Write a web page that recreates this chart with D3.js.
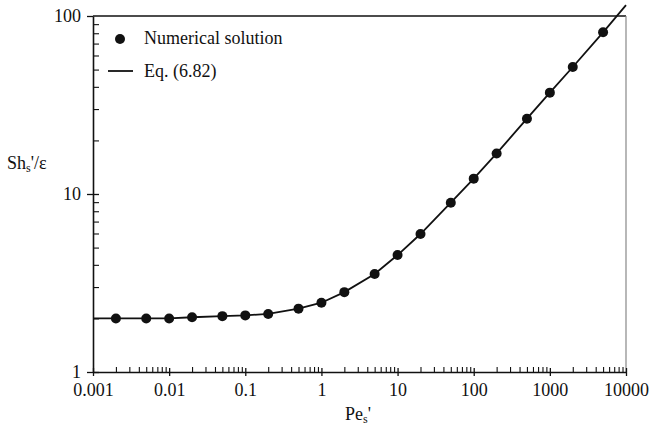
<!DOCTYPE html>
<html>
<head>
<meta charset="utf-8">
<script src="https://cdn.jsdelivr.net/npm/d3@7"></script>
<style>
  html, body { margin: 0; padding: 0; background: #fff; }
  svg { display: block; }
  text { font-family: "Liberation Serif", "Times New Roman", serif; fill: #111; }
</style>
</head>
<body>
<svg id="chart" width="649" height="434"></svg>
<script>
// Numerical solution points (Pe_s', Sh_s'/ε)
const pePoints = [0.002, 0.005, 0.01, 0.02, 0.05, 0.1, 0.2, 0.5, 1, 2, 5, 10, 20, 50, 100, 200, 500, 1000, 2000, 5000];
const shPoints = [2.0, 2.0, 2.0, 2.03, 2.06, 2.08, 2.12, 2.27, 2.45, 2.81, 3.55, 4.54, 5.96, 8.94, 12.2, 16.9, 26.5, 37.1, 51.7, 81.0];

// Correlation curve, Eq. (6.82)
const peCurve = [0.001, 0.002, 0.005, 0.01, 0.02, 0.05, 0.1, 0.2, 0.5, 1, 2, 5, 10, 20, 50, 100, 200, 500, 1000, 2000, 5000, 10000];
const shCurve = [2.0, 2.0, 2.0, 2.0, 2.03, 2.06, 2.08, 2.12, 2.27, 2.45, 2.81, 3.55, 4.54, 5.96, 8.94, 12.2, 16.9, 26.5, 37.1, 51.7, 81.0, 115];

// Axis ticks
const xMajor = [0.001, 0.01, 0.1, 1, 10, 100, 1000, 10000];
const xLabels = ["0.001", "0.01", "0.1", "1", "10", "100", "1000", "10000"];
const yMajor = [1, 10, 100];
const yLabels = ["1", "10", "100"];

const legendLabels = ["Numerical solution", "Eq. (6.82)"];

const svg = d3.select("#chart");
const plotLeft = 93, plotRight = 626, plotTop = 16, plotBottom = 372;

const x = d3.scaleLog().domain([0.001, 10000]).range([plotLeft, plotRight]);
const y = d3.scaleLog().domain([1, 100]).range([plotBottom, plotTop]);

// minor tick values for each decade
const xMinor = [];
xMajor.slice(0, -1).forEach(d => { for (let k = 2; k <= 9; k++) xMinor.push(d * k); });
const yMinor = [];
yMajor.slice(0, -1).forEach(d => { for (let k = 2; k <= 9; k++) yMinor.push(d * k); });

// frame: top and right edges
svg.append("line").attr("x1", plotLeft).attr("x2", plotRight).attr("y1", plotTop).attr("y2", plotTop)
  .attr("stroke", "#111").attr("stroke-width", 1.3);
svg.append("line").attr("x1", plotRight).attr("x2", plotRight).attr("y1", plotTop).attr("y2", plotBottom)
  .attr("stroke", "#888").attr("stroke-width", 1.2);

// x axis
const gx = svg.append("g").attr("transform", `translate(0,${plotBottom})`);
gx.call(d3.axisBottom(x).tickValues(xMinor).tickSize(-5).tickFormat(""))
  .call(g => g.select(".domain").remove());
gx.selectAll("line").attr("stroke", "#111").attr("stroke-width", 1.1);
const gxMaj = svg.append("g").attr("transform", `translate(0,${plotBottom})`);
gxMaj.call(d3.axisBottom(x).tickValues(xMajor).tickSizeInner(4).tickSizeOuter(0)
  .tickFormat((d, i) => xLabels[i]).tickPadding(7));
gxMaj.select(".domain").attr("stroke", "#111").attr("stroke-width", 1.6);
gxMaj.selectAll(".tick line").attr("y1", -4).attr("stroke", "#111").attr("stroke-width", 1.3);
gxMaj.selectAll(".tick text").attr("font-size", 18).attr("font-family", "Liberation Serif")
  .attr("fill", "#111");

// y axis
const gy = svg.append("g").attr("transform", `translate(${plotLeft},0)`);
gy.call(d3.axisLeft(y).tickValues(yMinor).tickSize(-6).tickFormat(""))
  .call(g => g.select(".domain").remove());
gy.selectAll("line").attr("stroke", "#111").attr("stroke-width", 1.1);
const gyMaj = svg.append("g").attr("transform", `translate(${plotLeft},0)`);
gyMaj.call(d3.axisLeft(y).tickValues(yMajor).tickSizeInner(6).tickSizeOuter(0)
  .tickFormat((d, i) => yLabels[i]).tickPadding(6));
gyMaj.select(".domain").attr("stroke", "#111").attr("stroke-width", 1.6);
gyMaj.selectAll(".tick line").attr("x1", d => d === 100 ? 0 : 6)
  .attr("stroke", "#111").attr("stroke-width", 1.3);
gyMaj.selectAll(".tick text").attr("font-size", 18).attr("font-family", "Liberation Serif")
  .attr("fill", "#111");

// axis titles
const yTitle = svg.append("text").attr("x", 7).attr("y", 169).attr("font-size", 18);
yTitle.append("tspan").text("Sh");
yTitle.append("tspan").attr("font-size", 12).attr("dy", 3).text("s");
yTitle.append("tspan").attr("dy", -3).text("'/ε");

const xTitle = svg.append("text").attr("x", 345).attr("y", 420).attr("font-size", 18);
xTitle.append("tspan").text("Pe");
xTitle.append("tspan").attr("font-size", 12).attr("dy", 3).text("s");
xTitle.append("tspan").attr("dy", -3).text("'");

// correlation curve
const line = d3.line().x((d, i) => x(peCurve[i])).y(d => y(d));
svg.append("path").datum(shCurve).attr("d", line)
  .attr("fill", "none").attr("stroke", "#111").attr("stroke-width", 1.8);

// numerical points
svg.append("g").selectAll("circle").data(shPoints).join("circle")
  .attr("cx", (d, i) => x(pePoints[i])).attr("cy", d => y(d)).attr("r", 5)
  .attr("fill", "#111");

// legend
svg.append("circle").attr("cx", 120).attr("cy", 39).attr("r", 5).attr("fill", "#111");
svg.append("text").attr("x", 144).attr("y", 44).attr("font-size", 18).text(legendLabels[0]);
svg.append("line").attr("x1", 108).attr("x2", 133).attr("y1", 71).attr("y2", 71)
  .attr("stroke", "#111").attr("stroke-width", 1.8);
svg.append("text").attr("x", 144).attr("y", 77).attr("font-size", 18).text(legendLabels[1]);
</script>
</body>
</html>
